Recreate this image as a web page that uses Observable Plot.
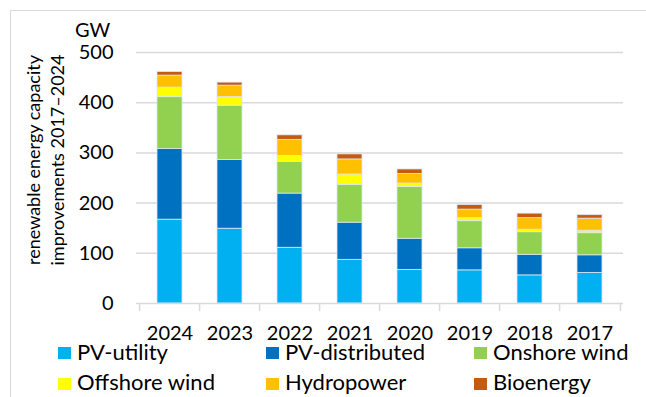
<!DOCTYPE html>
<html>
<head>
<meta charset="utf-8">
<script src="https://cdn.jsdelivr.net/npm/d3@7"></script>
<script src="https://cdn.jsdelivr.net/npm/@observablehq/plot@0.6"></script>
<style>
  html, body { margin: 0; padding: 0; background: #fff; }
  #wrap { position: relative; width: 646px; height: 397px; overflow: hidden; font-family: Lato, "Open Sans", sans-serif; color: #000; }
  #frame { position: absolute; left: 10px; top: 10px; right: -2px; bottom: -2px; border-top: 1.5px solid #d9d9d9; border-left: 1.5px solid #d9d9d9; }
  #chart { position: absolute; left: 0; top: 0; }
  .ytitle { position: absolute; left: 45px; top: 160px; width: 260px; transform: translate(-50%, -50%) rotate(-90deg); text-align: center; font-size: 18px; line-height: 24px; white-space: nowrap; }
  .unit { position: absolute; left: 75px; top: 21px; font-size: 20px; line-height: 16px; }
  .legend { position: absolute; left: 0; top: 0; }
  .item { position: absolute; display: flex; align-items: center; font-size: 22px; line-height: 16px; white-space: nowrap; }
  .sw { width: 13px; height: 12px; margin-right: 6px; position: relative; top: 1.5px; }
</style>
</head>
<body>
<div id="wrap">
  <div id="frame"></div>
  <div id="chart"></div>
  <div class="unit">GW</div>
  <div class="ytitle">renewable energy capacity<br>improvements 2017–2024</div>
  <div class="legend" id="legend"></div>
</div>
<script>
const years = ["2024", "2023", "2022", "2021", "2020", "2019", "2018", "2017"];
const seriesNames = ["PV-utility", "PV-distributed", "Onshore wind", "Offshore wind", "Hydropower", "Bioenergy"];
const seriesColors = ["#00B0F0", "#0070C0", "#92D050", "#FFFF00", "#FFC000", "#C55A11"];
const pvUtility     = [167, 149, 111, 87, 67, 66, 56, 61];
const pvDistributed = [141, 137, 108, 74, 62, 44, 41, 35];
const onshoreWind   = [103, 108, 63, 75, 103, 54, 45, 44];
const offshoreWind  = [19, 17, 12, 21, 7, 6, 5, 5];
const hydropower    = [24, 23, 32, 30, 19, 17, 23, 24];
const bioenergy     = [7, 6, 9, 10, 9, 9, 9, 7];
const yTicks = [0, 100, 200, 300, 400, 500];

const seriesValues = [pvUtility, pvDistributed, onshoreWind, offshoreWind, hydropower, bioenergy];
const data = [];
seriesNames.forEach((s, si) => years.forEach((y, yi) => data.push({year: y, series: s, value: seriesValues[si][yi]})));

const W = 646, H = 345;
const mL = 136, mR = 23, mT = 52, mB = 42;
const step = (W - mL - mR) / years.length;

const chart = Plot.plot({
  width: W, height: H,
  marginLeft: mL, marginRight: mR, marginTop: mT, marginBottom: mB,
  style: {fontFamily: "Lato, 'Open Sans', sans-serif", color: "#000", background: "transparent"},
  x: {domain: years, paddingInner: 0.59, paddingOuter: 0.295, label: null},
  y: {domain: [0, 500], label: null},
  color: {domain: seriesNames, range: seriesColors},
  marks: [
    Plot.ruleY(yTicks.filter(d => d > 0), {stroke: "#d9d9d9", strokeWidth: 1.5}),
    Plot.barY(data, {x: "year", y: "value", fill: "series", order: seriesNames, stroke: "#dce6f2", strokeWidth: 0.8}),
    Plot.ruleY([0], {stroke: "#d9d9d9", strokeWidth: 1.5}),
    Plot.axisX(years, {tickSize: 8, tickFormat: () => "", dx: -step / 2, stroke: "#d9d9d9", strokeWidth: 1.5, strokeOpacity: 1}),
    Plot.axisX([years[years.length - 1]], {tickSize: 8, tickFormat: () => "", dx: step / 2, stroke: "#d9d9d9", strokeWidth: 1.5, strokeOpacity: 1}),
    Plot.axisX({tickSize: 0, tickPadding: 22, fontSize: 20, fill: "#000"}),
    Plot.axisY(yTicks, {tickSize: 0, tickPadding: 23, fontSize: 20, fill: "#000"})
  ]
});
document.getElementById("chart").appendChild(chart);

const legendPos = [[58, 343.5], [266, 343.5], [474, 343.5], [58, 374], [266, 374], [474, 374]];
const legend = document.getElementById("legend");
seriesNames.forEach((s, i) => {
  const it = document.createElement("div");
  it.className = "item";
  it.style.left = legendPos[i][0] + "px";
  it.style.top = legendPos[i][1] + "px";
  const sw = document.createElement("span");
  sw.className = "sw";
  sw.style.background = seriesColors[i];
  it.appendChild(sw);
  it.appendChild(document.createTextNode(s));
  legend.appendChild(it);
});
</script>
</body>
</html>
